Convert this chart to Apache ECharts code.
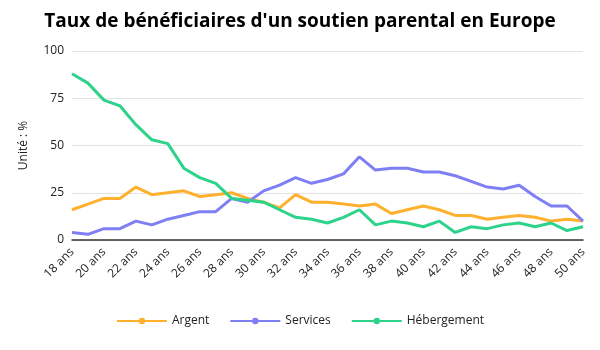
<!DOCTYPE html>
<html>
<head>
<meta charset="utf-8">
<script src="https://cdn.jsdelivr.net/npm/echarts@6/dist/echarts.min.js"></script>
<style>
  html, body { margin: 0; padding: 0; background: #fff; }
  #chart { width: 600px; height: 350px; }
</style>
</head>
<body>
<div id="chart"></div>
<script>
// ages 18..50
var ages = ['18 ans', '19 ans', '20 ans', '21 ans', '22 ans', '23 ans', '24 ans', '25 ans', '26 ans',
  '27 ans', '28 ans', '29 ans', '30 ans', '31 ans', '32 ans', '33 ans', '34 ans', '35 ans', '36 ans',
  '37 ans', '38 ans', '39 ans', '40 ans', '41 ans', '42 ans', '43 ans', '44 ans', '45 ans', '46 ans',
  '47 ans', '48 ans', '49 ans', '50 ans'];

var argent = [16, 19, 22, 22, 28, 24, 25, 26, 23, 24, 25, 22, 20, 17, 24, 20, 20, 19, 18,
  19, 14, 16, 18, 16, 13, 13, 11, 12, 13, 12, 10, 11, 10];
var services = [4, 3, 6, 6, 10, 8, 11, 13, 15, 15, 22, 20, 26, 29, 33, 30, 32, 35, 44,
  37, 38, 38, 36, 36, 34, 31, 28, 27, 29, 23, 18, 18, 10];
var hebergement = [88, 83, 74, 71, 61, 53, 51, 38, 33, 30, 22, 21, 20, 16, 12, 11, 9, 12, 16,
  8, 10, 9, 7, 10, 4, 7, 6, 8, 9, 7, 9, 5, 7];

var yTicks = [0, 25, 50, 75, 100];

var font = '"Open Sans", "Noto Sans", sans-serif';

function lineSeries(name, data, color) {
  return {
    name: name,
    type: 'line',
    data: data,
    symbol: 'circle',
    symbolSize: 8,
    showSymbol: false,
    lineStyle: { width: 3, color: color },
    itemStyle: { color: color },
  };
}

var chart = echarts.init(document.getElementById('chart'));
chart.setOption({
  animation: false,
  title: {
    text: "Taux de bénéficiaires d'un soutien parental en Europe",
    left: 'center',
    top: 7,
    textStyle: { fontFamily: font, fontSize: 19, fontWeight: 'bold', color: '#000' },
  },
  legend: {
    bottom: 18,
    itemWidth: 50,
    itemHeight: 8,
    itemGap: 20,
    textStyle: { fontFamily: font, fontSize: 12, color: '#222' },
    data: ['Argent', 'Services', 'Hébergement'],
  },
  grid: { left: 72, right: 17, top: 51, bottom: 110 },
  xAxis: {
    type: 'category',
    data: ages,
    boundaryGap: false,
    axisTick: { show: false },
    axisLine: { lineStyle: { color: '#333', width: 1.5 } },
    axisLabel: { interval: 1, rotate: 45, fontFamily: font, fontSize: 12, color: '#222', margin: 10 },
  },
  yAxis: {
    type: 'value',
    min: yTicks[0],
    max: yTicks[yTicks.length - 1],
    interval: 25,
    name: 'Unité : %',
    nameLocation: 'middle',
    nameGap: 42,
    nameTextStyle: { fontFamily: font, fontSize: 12, color: '#222' },
    axisLabel: { fontFamily: font, fontSize: 12, color: '#222' },
    splitLine: { lineStyle: { color: '#e3e3e3' } },
  },
  series: [
    lineSeries('Argent', argent, '#ffb02e'),
    lineSeries('Services', services, '#7f7ff5'),
    lineSeries('Hébergement', hebergement, '#2ed38b'),
  ],
});
</script>
</body>
</html>
